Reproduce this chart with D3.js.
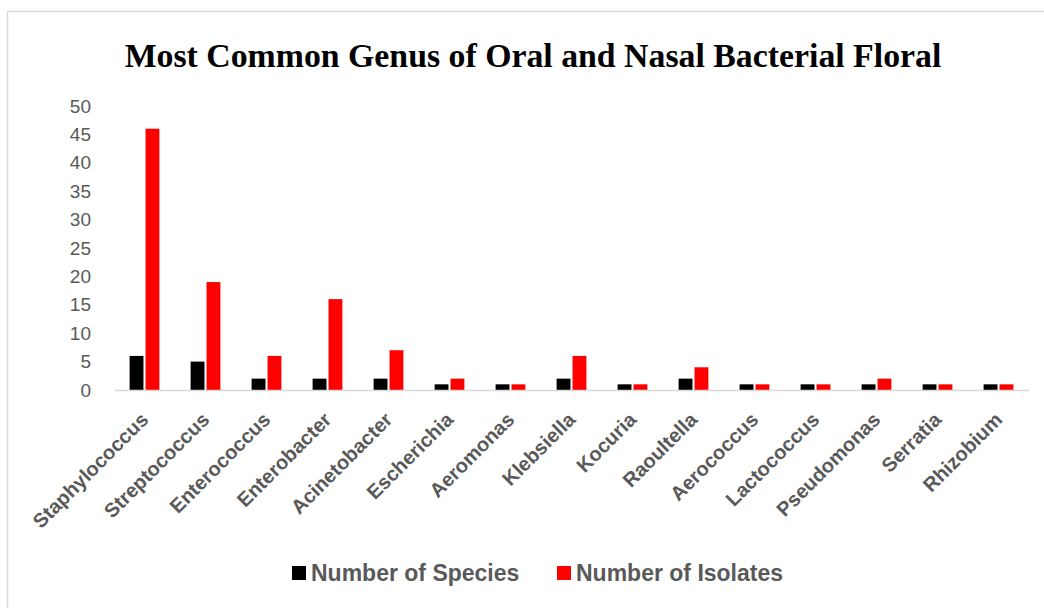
<!DOCTYPE html>
<html>
<head>
<meta charset="utf-8">
<script src="https://cdn.jsdelivr.net/npm/d3@7"></script>
<style>
  html, body { margin: 0; padding: 0; background: #fff; }
  svg { display: block; }
</style>
</head>
<body>
<svg id="chart" width="1044" height="608"></svg>
<script>
// Genus names along the x axis
const genera = ["Staphylococcus", "Streptococcus", "Enterococcus", "Enterobacter",
  "Acinetobacter", "Escherichia", "Aeromonas", "Klebsiella", "Kocuria", "Raoultella",
  "Aerococcus", "Lactococcus", "Pseudomonas", "Serratia", "Rhizobium"];
// Series values per genus
const speciesCounts = [6, 5, 2, 2, 2, 1, 1, 2, 1, 2, 1, 1, 1, 1, 1];
const isolateCounts = [46, 19, 6, 16, 7, 2, 1, 6, 1, 4, 1, 1, 2, 1, 1];
const seriesNames = ["Number of Species", "Number of Isolates"];
const seriesColors = ["#000000", "#ff0000"];
const yTicks = [0, 5, 10, 15, 20, 25, 30, 35, 40, 45, 50];

const svg = d3.select("#chart");
const W = 1044, H = 608;

// chart frame
svg.append("rect")
  .attr("x", 7.5).attr("y", 11.5)
  .attr("width", W + 10).attr("height", H + 10)
  .attr("fill", "#fff").attr("stroke", "#d9d9d9").attr("stroke-width", 1.5);

const plot = { left: 114, right: 1029, top: 106, bottom: 390 };

const x = d3.scaleBand().domain(genera).range([plot.left, plot.right]).padding(0);
const sub = d3.scaleBand().domain(seriesNames)
  .range([0, x.bandwidth()]).paddingInner(0.13).paddingOuter(0.98);
const y = d3.scaleLinear().domain([0, 50]).range([plot.bottom, plot.top]);

// title
svg.append("text")
  .attr("x", 533).attr("y", 67)
  .attr("text-anchor", "middle")
  .attr("font-family", "'Liberation Serif','Times New Roman',serif")
  .attr("font-weight", "bold").attr("font-size", 33.8)
  .attr("fill", "#000")
  .text("Most Common Genus of Oral and Nasal Bacterial Floral");

// y axis labels
const yAxis = d3.axisLeft(y).tickValues(yTicks).tickSize(0).tickPadding(0);
const gy = svg.append("g").attr("transform", `translate(91,0)`).call(yAxis);
gy.select(".domain").remove();
gy.selectAll("text")
  .attr("font-family", "'Liberation Sans', Arial, sans-serif")
  .attr("font-size", 19).attr("fill", "#595959");

// bars
const rows = genera.map((g, i) => ({ genus: g, values: [speciesCounts[i], isolateCounts[i]] }));
const groups = svg.append("g").selectAll("g").data(rows).join("g")
  .attr("transform", d => `translate(${x(d.genus)},0)`);
groups.selectAll("rect")
  .data(d => d.values.map((v, k) => ({ key: seriesNames[k], value: v, color: seriesColors[k] })))
  .join("rect")
  .attr("x", d => sub(d.key))
  .attr("width", sub.bandwidth())
  .attr("y", d => y(d.value))
  .attr("height", d => y(0) - y(d.value))
  .attr("fill", d => d.color);

// x axis baseline and labels
const xAxis = d3.axisBottom(x).tickSize(0).tickPadding(0);
const gx = svg.append("g").attr("transform", `translate(0,${plot.bottom})`).call(xAxis);
gx.select(".domain").attr("stroke", "#d9d9d9").attr("stroke-width", 1.5);
gx.selectAll("text")
  .attr("font-family", "'Liberation Sans', Arial, sans-serif")
  .attr("font-weight", "bold").attr("font-size", 20).attr("fill", "#595959")
  .attr("text-anchor", "end")
  .attr("dy", "0")
  .attr("transform", "translate(5,31) rotate(-45)");

// legend
const legend = svg.append("g");
const legendItems = [
  { name: seriesNames[0], color: seriesColors[0], x: 292 },
  { name: seriesNames[1], color: seriesColors[1], x: 557 }
];
legendItems.forEach(it => {
  legend.append("rect").attr("x", it.x).attr("y", 566).attr("width", 14).attr("height", 14)
    .attr("fill", it.color);
  legend.append("text").attr("x", it.x + 19).attr("y", 581)
    .attr("font-family", "'Liberation Sans', Arial, sans-serif")
    .attr("font-weight", "bold").attr("font-size", 23).attr("fill", "#595959")
    .text(it.name);
});
</script>
</body>
</html>
